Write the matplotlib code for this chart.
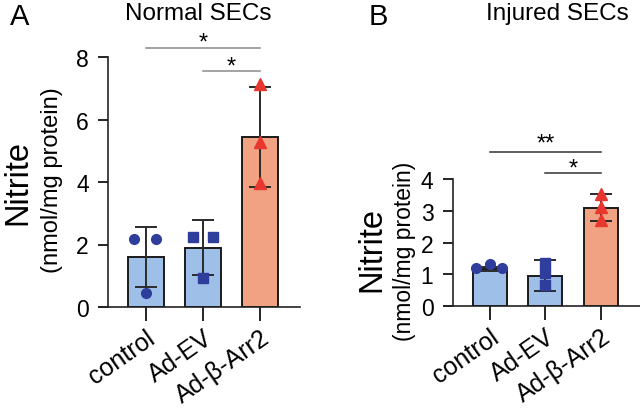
import matplotlib
matplotlib.use('Agg')
import matplotlib.pyplot as plt
import numpy as np

plt.rcParams['font.family'] = ['Liberation Sans', 'DejaVu Sans']

# Data
groups = ['control', 'Ad-EV', 'Ad-β-Arr2']

a_mean = [1.60, 1.89, 5.44]
a_sd = [0.95, 0.88, 1.60]
a_points = [[2.18, 2.18, 0.45], [2.25, 2.25, 0.92], [7.15, 5.28, 3.97]]
a_jitter = [[-0.2, 0.17, 0.0], [-0.17, 0.17, 0.0], [0.0, 0.0, 0.0]]

b_mean = [1.17, 0.96, 3.10]
b_sd = [0.05, 0.49, 0.42]
b_points = [[1.19, 1.32, 1.19], [1.37, 1.06, 0.66], [3.53, 3.12, 2.72]]
b_jitter = [[-0.25, 0.0, 0.22], [0.0, 0.0, 0.0], [0.0, 0.0, 0.0]]

bar_colors = ['#9ebfe8', '#9ebfe8', '#f0a283']
pt_colors = ['#2f3d9c', '#2f3d9c', '#e8372e']
markers = ['o', 's', '^']
msizes = [7, 7, 8]

W, H = 640, 410
fig = plt.figure(figsize=(6.4, 4.1), dpi=100)


def panel(rect, means, sds, points, jitter, ymax, width):
    ax = fig.add_axes(rect)
    x = np.arange(len(groups))
    ax.bar(x, means, width=width, color=bar_colors, edgecolor='#1a1a1a',
           linewidth=1.4, zorder=1)
    ax.errorbar(x, means, yerr=sds, fmt='none', ecolor='#2a2a2a',
                elinewidth=1.4, capsize=8, capthick=1.4, zorder=3)
    for i in range(len(groups)):
        ax.plot(x[i] + np.array(jitter[i]), points[i], linestyle='none',
                marker=markers[i], color=pt_colors[i], markersize=msizes[i],
                zorder=4, clip_on=False)
    ax.set_xlim(-0.82, 2.7)
    ax.set_ylim(0, ymax)
    ax.spines['top'].set_visible(False)
    ax.spines['right'].set_visible(False)
    ax.spines['left'].set_position(('data', -0.66))
    ax.spines['left'].set_bounds(0, ymax)
    for s in ['left', 'bottom']:
        ax.spines[s].set_linewidth(1.2)
        ax.spines[s].set_color('#222222')
    ax.set_yticks(np.arange(0, ymax + 1, 2 if ymax > 4 else 1))
    ax.set_xticks(x)
    ax.set_xticklabels(groups, rotation=35, ha='right', rotation_mode='anchor')
    ax.tick_params(axis='y', length=7, width=1.2, labelsize=16.5, pad=7)
    ax.tick_params(axis='x', length=10, width=1.2, labelsize=18, pad=3)
    return ax


def sig(ax, x0, x1, y, label, ty, color):
    ax.plot([x0, x1], [y, y], color=color, linewidth=1.1, clip_on=False)
    ax.text((x0 + x1) / 2, ty, label, ha='center', va='center', fontsize=17,
            clip_on=False)


# Panel A
axA = panel([99 / W, 102 / H, 201 / W, 250 / H], a_mean, a_sd, a_points,
            a_jitter, 8, 0.63)
sig(axA, 0, 2, 8.3, '*', 8.45, '#8a8a8a')
sig(axA, 1, 2, 7.55, '*', 7.7, '#8a8a8a')

# Panel B
axB = panel([444 / W, 102.7 / H, 196 / W, 127.3 / H], b_mean, b_sd, b_points,
            b_jitter, 4, 0.61)
sig(axB, 0, 2, 4.84, '**', 5.12, '#333333')
sig(axB, 1, 2, 4.19, '*', 4.34, '#333333')

# Titles, panel letters, axis labels
fig.text(20 / W, 1 - 17 / H, 'A', fontsize=21, ha='center', va='center')
fig.text(198 / W, 1 - 14 / H, 'Normal SECs', fontsize=17.5, ha='center', va='center')
fig.text(378 / W, 1 - 17 / H, 'B', fontsize=21, ha='center', va='center')
fig.text(557 / W, 1 - 14 / H, 'Injured SECs', fontsize=17.5, ha='center', va='center')

fig.text(18 / W, 1 - 183 / H, 'Nitrite', fontsize=23.5, rotation=90,
         ha='center', va='center')
fig.text(52 / W, 1 - 180 / H, '(nmol/mg protein)', fontsize=17, rotation=90,
         ha='center', va='center')
fig.text(372 / W, 1 - 250 / H, 'Nitrite', fontsize=23.5, rotation=90,
         ha='center', va='center')
fig.text(404 / W, 1 - 251 / H, '(nmol/mg protein)', fontsize=16.5, rotation=90,
         ha='center', va='center')

fig.savefig('out.png', dpi=100)
